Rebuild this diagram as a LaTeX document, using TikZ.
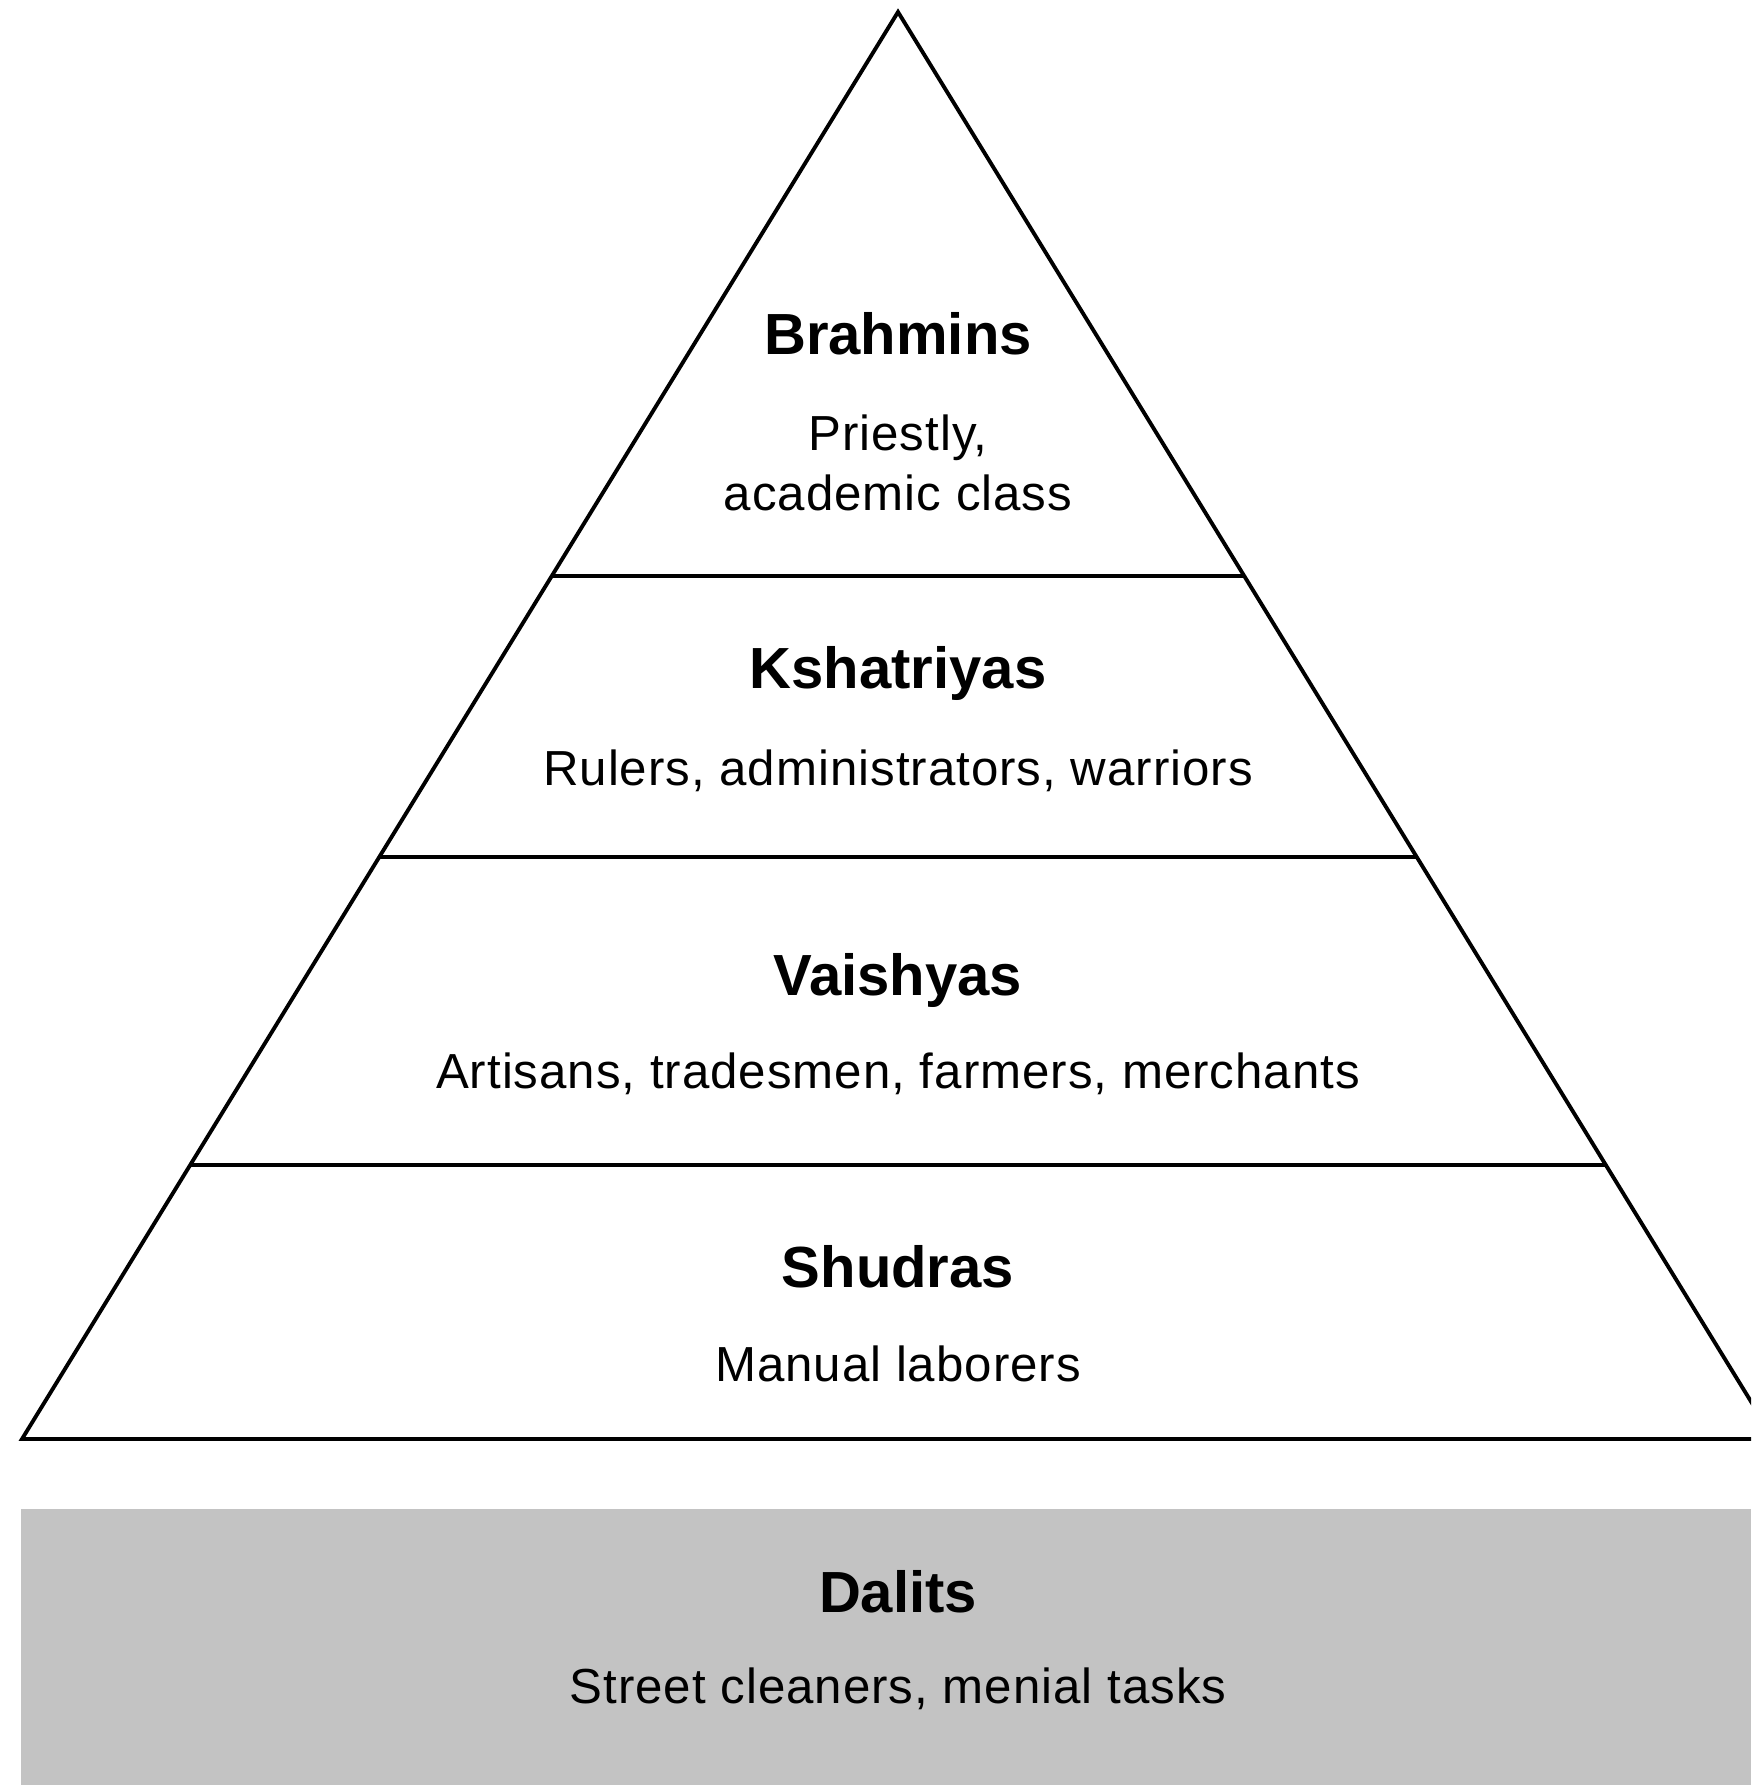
\documentclass[tikz,border=0pt]{standalone}
\usepackage{fontspec}
\setmainfont{Liberation Sans}
\newfontfamily\dutyfont{Liberation Sans}[LetterSpace=2]
\usetikzlibrary{calc}

\definecolor{dalitgray}{RGB}{195,195,195}

\tikzset{
  caste/.style={font=\fontsize{16.5}{19}\selectfont\bfseries},
  duty/.style={font=\dutyfont\fontsize{14}{17}\selectfont, align=center},
}

\begin{document}
\begin{tikzpicture}[x=0.01cm,y=-0.01cm,line width=1.1pt]

\useasboundingbox (0,0) rectangle (1751,1785);
\clip (0,0) rectangle (1751,1785);

\coordinate (apex) at (898,12);
\coordinate (bl) at (22,1439);
\coordinate (br) at (1774,1439);

% outcaste band
\fill[dalitgray] (21,1509) rectangle (1751,1785);

% pyramid and its layers
\draw (apex) -- (bl) -- (br) -- cycle;
\foreach \y in {576,857,1165}
  \draw ($(apex)!{(\y-12)/1427}!(bl)$) -- ($(apex)!{(\y-12)/1427}!(br)$);

\node[caste] (brahmins)   at (898,334)  {Brahmins};
\node[duty]  (priestly)   at (898,463)  {Priestly,\\academic class};

\node[caste] (kshatriyas) at (898,673)  {Kshatriyas};
\node[duty]  (rulers)     at (898,771)  {Rulers, administrators, warriors};

\node[caste] (vaishyas)   at (898,980)  {Vaishyas};
\node[duty]  (artisans)   at (898,1074) {Artisans, tradesmen, farmers, merchants};

\node[caste] (shudras)    at (898,1267) {Shudras};
\node[duty]  (laborers)   at (898,1364) {Manual laborers};

\node[caste] (dalits)     at (898,1592) {Dalits};
\node[duty]  (cleaners)   at (898,1689) {Street cleaners, menial tasks};

\end{tikzpicture}
\end{document}
